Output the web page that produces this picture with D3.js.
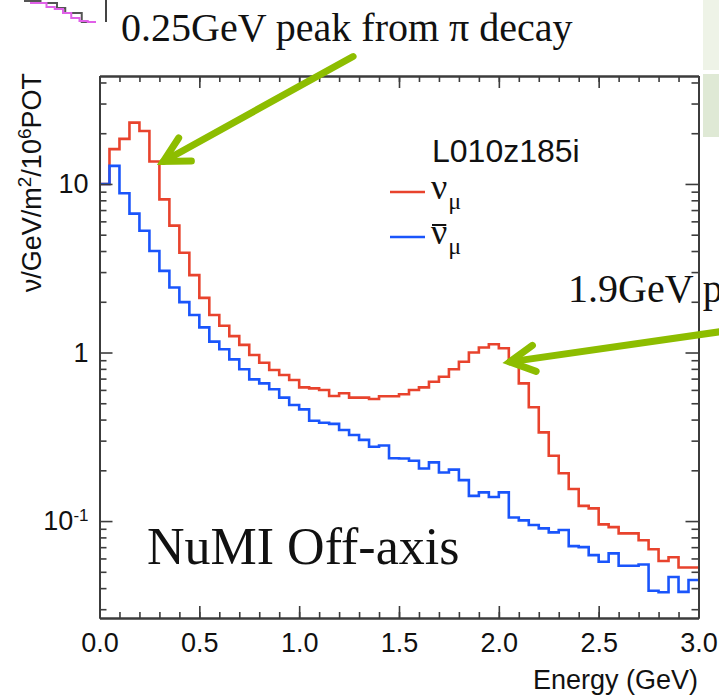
<!DOCTYPE html>
<html lang="en">
<head>
  <meta charset="UTF-8">
  <title>NuMI Off-axis flux</title>
  <style>
    body { margin: 0; background: #fff; }
    svg { display: block; }
  </style>
</head>
<body>
  <svg id="svg" width="719" height="698"></svg>

  <script src="https://d3js.org/d3.v7.min.js"></script>
  <script>
    // flux per 0.05 GeV bin, 0 .. 3 GeV
    const binWidth = 0.05
    const numu = [10.0, 16.1, 18.5, 23.1, 20.6, 13.6, 8.1, 5.66, 3.91, 2.88,
      2.11, 1.67, 1.44, 1.25, 1.11, 0.966, 0.87, 0.787, 0.735, 0.687,
      0.621, 0.613, 0.599, 0.552, 0.573, 0.54, 0.54, 0.53, 0.55, 0.55,
      0.565, 0.599, 0.621, 0.671, 0.718, 0.795, 0.882, 1.0, 1.07, 1.12,
      1.06, 0.89, 0.656, 0.473, 0.336, 0.244, 0.192, 0.155, 0.123, 0.119,
      0.0956, 0.092, 0.0845, 0.0845, 0.077, 0.068, 0.058, 0.061, 0.053, 0.053]
    const numubar = [10.0, 12.8, 8.8, 6.67, 5.28, 4.0, 3.05, 2.43, 1.99, 1.67,
      1.41, 1.16, 1.045, 0.911, 0.795, 0.693, 0.656, 0.605, 0.54, 0.488,
      0.46, 0.394, 0.383, 0.377, 0.347, 0.324, 0.303, 0.276, 0.281, 0.236,
      0.235, 0.228, 0.205, 0.223, 0.194, 0.202, 0.175, 0.141, 0.148, 0.139,
      0.148, 0.105, 0.101, 0.0947, 0.0905, 0.0857, 0.0885, 0.071, 0.070, 0.0628,
      0.0574, 0.0643, 0.0543, 0.0543, 0.0553, 0.0386, 0.0378, 0.0466, 0.038, 0.0447]

    const xMajor = [0, 0.5, 1.0, 1.5, 2.0, 2.5, 3.0]
    const yMajor = [0.1, 1, 10]
    const yMinor = [0.03, 0.04, 0.05, 0.06, 0.07, 0.08, 0.09,
      0.2, 0.3, 0.4, 0.5, 0.6, 0.7, 0.8, 0.9,
      2, 3, 4, 5, 6, 7, 8, 9, 20, 30, 40]

    // annotations, in data units
    const arrows = [
      { from: [1.27, 57], to: [0.32, 13.6] },
      { from: [3.11, 1.33], to: [2.055, 0.88] }
    ]
    // bits of the neighbouring slide plot peeking in at the top left
    const fragGray = [1, 1, 3, 3, 8, 13, 13, 22]
    const fragPink = [3, 3, 7, 9, 13, 18, 21, 22]

    const serif = '"Liberation Serif", "Times New Roman", serif'
    const sans = '"Liberation Sans", Arial, Helvetica, sans-serif'
    const frameColor = '#3c3c3c'
    const red = '#e8432d'
    const blue = '#1a55fb'

    const svg = d3.select('#svg')

    const x = d3.scaleLinear().domain([0, 3]).range([99.5, 698.5])
    const y = d3.scaleLog().domain([0.0266, 43.7]).range([618, 76])

    // pale green panels on the right edge of the slide
    svg.append('rect').attr('x', 703).attr('y', 0).attr('width', 16).attr('height', 70)
      .attr('fill', '#eef3e7')
    svg.append('rect').attr('x', 703).attr('y', 74).attr('width', 16).attr('height', 63)
      .attr('fill', '#dfe9d5')

    // fragment of the other plot
    const fx = d3.scaleLinear().domain([0, 8]).range([24, 90])
    const fragLine = d3.line().x((d, i) => fx(i)).y(d => d).curve(d3.curveStepAfter)
    svg.append('path').attr('d', fragLine(fragGray.concat([22])))
      .attr('fill', 'none').attr('stroke', '#555').attr('stroke-width', 2)
    svg.append('path').attr('d', fragLine(fragPink.concat([22])))
      .attr('fill', 'none').attr('stroke', '#e060e8').attr('stroke-width', 2)
      .attr('transform', 'translate(6,0)')
    svg.append('line').attr('x1', 106).attr('x2', 106).attr('y1', 0).attr('y2', 22)
      .attr('stroke', '#444').attr('stroke-width', 2)

    // text annotations
    svg.append('text').attr('x', 121).attr('y', 41)
      .style('font-family', serif).style('font-size', '40px').attr('fill', '#111')
      .text('0.25GeV peak from π decay')
    svg.append('text').attr('x', 568).attr('y', 302)
      .style('font-family', serif).style('font-size', '40px').attr('fill', '#111')
      .text('1.9GeV peak')
    svg.append('text').attr('x', 147).attr('y', 564)
      .style('font-family', serif).style('font-size', '52px').attr('fill', '#111')
      .text('NuMI Off-axis')

    // histograms
    const edges = numu.map((d, i) => i * binWidth)
    const stepLine = d3.line()
      .x(d => x(d[0]))
      .y(d => y(d[1]))
      .curve(d3.curveStepAfter)

    function histPoints(values) {
      const pts = values.map((v, i) => [edges[i], v])
      pts.push([3.0, values[values.length - 1]])
      return pts
    }

    svg.append('clipPath').attr('id', 'plot-clip')
      .append('rect').attr('x', 99.5).attr('y', 76).attr('width', 599).attr('height', 542)

    const plot = svg.append('g').attr('clip-path', 'url(#plot-clip)')
    plot.append('path')
      .attr('d', stepLine(histPoints(numu)))
      .attr('fill', 'none').attr('stroke', red).attr('stroke-width', 2.6)
    plot.append('path')
      .attr('d', stepLine(histPoints(numubar)))
      .attr('fill', 'none').attr('stroke', blue).attr('stroke-width', 2.6)

    // axes (ticks on all four sides, pointing inward)
    function styleAxis(g) {
      g.selectAll('.domain').attr('stroke', frameColor).attr('stroke-width', 2)
      g.selectAll('.tick line').attr('stroke', frameColor).attr('stroke-width', 1.6)
      g.selectAll('text').style('font-family', sans).style('font-size', '27px').attr('fill', '#111')
    }
    const xMinor = d3.range(0, 31).map(i => i / 10)

    svg.append('g').attr('transform', 'translate(0,618)')
      .call(d3.axisBottom(x).tickValues(xMinor).tickSize(-6).tickSizeOuter(0).tickFormat(''))
      .call(styleAxis)
    svg.append('g').attr('transform', 'translate(0,618)')
      .call(d3.axisBottom(x).tickValues(xMajor).tickSize(-12).tickSizeOuter(0)
        .tickPadding(15).tickFormat(d3.format('.1f')))
      .call(styleAxis)
    svg.append('g').attr('transform', 'translate(0,76)')
      .call(d3.axisTop(x).tickValues(xMinor).tickSize(-6).tickSizeOuter(0).tickFormat(''))
      .call(styleAxis)
    svg.append('g').attr('transform', 'translate(0,76)')
      .call(d3.axisTop(x).tickValues(xMajor).tickSize(-12).tickSizeOuter(0).tickFormat(''))
      .call(styleAxis)

    svg.append('g').attr('transform', 'translate(99.5,0)')
      .call(d3.axisLeft(y).tickValues(yMinor).tickSize(-7).tickSizeOuter(0).tickFormat(''))
      .call(styleAxis)
    const yAxisL = svg.append('g').attr('transform', 'translate(99.5,0)')
      .call(d3.axisLeft(y).tickValues(yMajor).tickSize(-13).tickSizeOuter(0).tickPadding(11))
      .call(styleAxis)
    yAxisL.selectAll('.tick text').each(function (d) {
      const t = d3.select(this).text('')
      if (d < 1) {
        t.append('tspan').text('10')
        t.append('tspan').attr('dy', '-9').style('font-size', '17px').text('-1')
      } else {
        t.text(d)
      }
    })
    svg.append('g').attr('transform', 'translate(698.5,0)')
      .call(d3.axisRight(y).tickValues(yMinor).tickSize(-7).tickSizeOuter(0).tickFormat(''))
      .call(styleAxis)
    svg.append('g').attr('transform', 'translate(698.5,0)')
      .call(d3.axisRight(y).tickValues(yMajor).tickSize(-13).tickSizeOuter(0).tickFormat(''))
      .call(styleAxis)

    // axis titles
    svg.append('text').attr('x', 698).attr('y', 689).attr('text-anchor', 'end')
      .style('font-family', sans).style('font-size', '27px').attr('fill', '#111')
      .text('Energy (GeV)')

    const yTitle = svg.append('text')
      .attr('transform', 'translate(41,73) rotate(-90)')
      .attr('text-anchor', 'end')
      .style('font-family', sans).style('font-size', '27px').attr('fill', '#111')
    yTitle.append('tspan').text('ν/GeV/m')
    yTitle.append('tspan').attr('dy', -10).style('font-size', '19px').text('2')
    yTitle.append('tspan').attr('dy', 10).text('/10')
    yTitle.append('tspan').attr('dy', -10).style('font-size', '19px').text('6')
    yTitle.append('tspan').attr('dy', 10).text('POT')

    // legend
    svg.append('text').attr('x', 432).attr('y', 162)
      .style('font-family', sans).style('font-size', '32px').attr('fill', '#111')
      .text('L010z185i')

    const legend = [
      { color: red, bar: false, y: 192 },
      { color: blue, bar: true, y: 237 }
    ]
    legend.forEach(d => {
      svg.append('line').attr('x1', 390).attr('x2', 425).attr('y1', d.y).attr('y2', d.y)
        .attr('stroke', d.color).attr('stroke-width', 2.6)
      const nu = svg.append('text').attr('x', 431).attr('y', d.y + 7)
        .style('font-family', serif).style('font-size', '36px').attr('fill', '#111')
        .text('ν')
      const box = nu.node().getBBox()
      svg.append('text').attr('x', box.x + box.width + 1).attr('y', d.y + 17)
        .style('font-family', serif).style('font-size', '24px').attr('fill', '#111')
        .text('μ')
      if (d.bar) {
        // anti-neutrino bar over the ν
        svg.append('line')
          .attr('x1', box.x + 1).attr('x2', box.x + box.width - 1)
          .attr('y1', d.y - 12).attr('y2', d.y - 12)
          .attr('stroke', '#111').attr('stroke-width', 2)
      }
    })

    // green arrows
    const arrowColor = '#8dbd00'
    arrows.forEach(a => {
      const x0 = x(a.from[0]), y0 = y(a.from[1])
      const x1 = x(a.to[0]), y1 = y(a.to[1])
      const ang = Math.atan2(y0 - y1, x0 - x1)
      const g = svg.append('g')
        .attr('stroke', arrowColor).attr('stroke-width', 7)
        .attr('stroke-linecap', 'round').attr('fill', 'none')
      g.append('line').attr('x1', x0).attr('y1', y0).attr('x2', x1).attr('y2', y1)
      const wing = 28, spread = 28 * Math.PI / 180
      g.append('path').attr('d', d3.line()([
        [x1 + wing * Math.cos(ang - spread), y1 + wing * Math.sin(ang - spread)],
        [x1, y1],
        [x1 + wing * Math.cos(ang + spread), y1 + wing * Math.sin(ang + spread)]
      ])).attr('stroke-linejoin', 'miter')
    })
  </script>
</body>
</html>
